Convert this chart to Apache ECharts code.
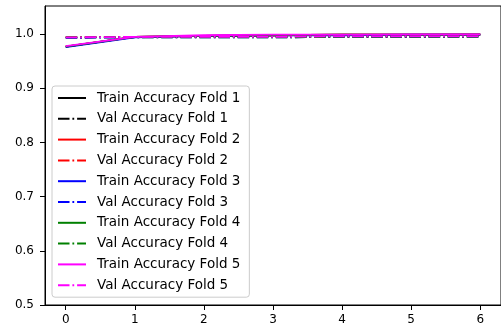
<!DOCTYPE html>
<html>
<head>
<meta charset="utf-8">
<script src="https://cdn.jsdelivr.net/npm/echarts@6/dist/echarts.min.js"></script>
<style>html,body{margin:0;padding:0;background:#fff;}#c{width:501px;height:331px;}</style>
</head>
<body>
<div id="c"></div>
<script>
var epochs = [0, 1, 2, 3, 4, 5, 6];
var xTicks = [0, 1, 2, 3, 4, 5, 6];
var yTicks = [0.5, 0.6, 0.7, 0.8, 0.9, 1.0];
var foldColors = ['#000000', '#ff0000', '#0000ff', '#008000', '#ff00ff'];

var trainFold1 = [0.977, 0.995, 0.997, 0.998, 0.999, 0.999, 0.999];
var valFold1   = [0.994, 0.995, 0.995, 0.995, 0.996, 0.995, 0.996];
var trainFold2 = [0.977, 0.995, 0.997, 0.998, 0.999, 0.999, 0.9995];
var valFold2   = [0.994, 0.995, 0.995, 0.995, 0.995, 0.996, 0.996];
var trainFold3 = [0.976, 0.994, 0.997, 0.998, 0.998, 0.999, 0.999];
var valFold3   = [0.993, 0.994, 0.994, 0.994, 0.995, 0.995, 0.995];
var trainFold4 = [0.977, 0.995, 0.997, 0.998, 0.999, 0.999, 0.999];
var valFold4   = [0.994, 0.994, 0.994, 0.994, 0.995, 0.995, 0.995];
var trainFold5 = [0.978, 0.995, 0.998, 0.999, 0.999, 0.9995, 0.9995];
var valFold5   = [0.994, 0.995, 0.995, 0.995, 0.996, 0.996, 0.996];

var trainData = [trainFold1, trainFold2, trainFold3, trainFold4, trainFold5];
var valData = [valFold1, valFold2, valFold3, valFold4, valFold5];

var font = 'DejaVu Sans';
var dashDot = [11.5, 2.9, 1.8, 2.9];
var series = [];
for (var i = 0; i < 5; i++) {
  series.push({
    name: 'Train Accuracy Fold ' + (i + 1),
    type: 'line',
    data: epochs.map(function (e, j) { return [e, trainData[i][j]]; }),
    symbol: 'none',
    lineStyle: { color: foldColors[i], width: 1.8, type: 'solid' },
    itemStyle: { color: foldColors[i] },
    z: 2 + i * 2
  });
  series.push({
    name: 'Val Accuracy Fold ' + (i + 1),
    type: 'line',
    data: epochs.map(function (e, j) { return [e, valData[i][j]]; }),
    symbol: 'none',
    lineStyle: { color: foldColors[i], width: 1.8, type: dashDot },
    itemStyle: { color: foldColors[i] },
    z: 3 + i * 2
  });
}

var chart = echarts.init(document.getElementById('c'), null, { renderer: 'canvas' });
chart.setOption({
  animation: false,
  backgroundColor: '#fff',
  grid: { left: 45, right: -3, top: 6, bottom: 26, show: true, borderColor: '#000', borderWidth: 1, backgroundColor: 'transparent' },
  legend: {
    orient: 'vertical',
    left: 52,
    top: 86,
    padding: [5, 9, 5, 5],
    itemWidth: 28,
    itemHeight: 14,
    itemGap: 6.8,
    backgroundColor: 'rgba(255,255,255,0.8)',
    borderColor: '#cccccc',
    borderWidth: 1,
    borderRadius: 3,
    itemStyle: { opacity: 0 },
    textStyle: { fontFamily: font, fontSize: 13.5, color: '#000', padding: [0, 0, 0, 6] },
    data: series.map(function (s) { return s.name; })
  },
  xAxis: {
    type: 'value',
    min: -0.3,
    max: 6.3,
    splitLine: { show: false },
    axisLine: { show: true, onZero: false, lineStyle: { color: '#000', width: 1 } },
    axisTick: { show: true, length: 5, lineStyle: { color: '#000' }, customValues: xTicks },
    axisLabel: { fontFamily: font, fontSize: 12, color: '#000', margin: 9, customValues: xTicks, formatter: function (v) { return String(v); } }
  },
  yAxis: {
    type: 'value',
    min: 0.5,
    max: 1.052,
    splitLine: { show: false },
    axisLine: { show: true, onZero: false, lineStyle: { color: '#000', width: 1 } },
    axisTick: { show: true, length: 5, lineStyle: { color: '#000' }, customValues: yTicks },
    axisLabel: { fontFamily: font, fontSize: 12, color: '#000', margin: 11, customValues: yTicks, formatter: function (v) { return v.toFixed(1); } }
  },
  series: series
});
</script>
</body>
</html>
